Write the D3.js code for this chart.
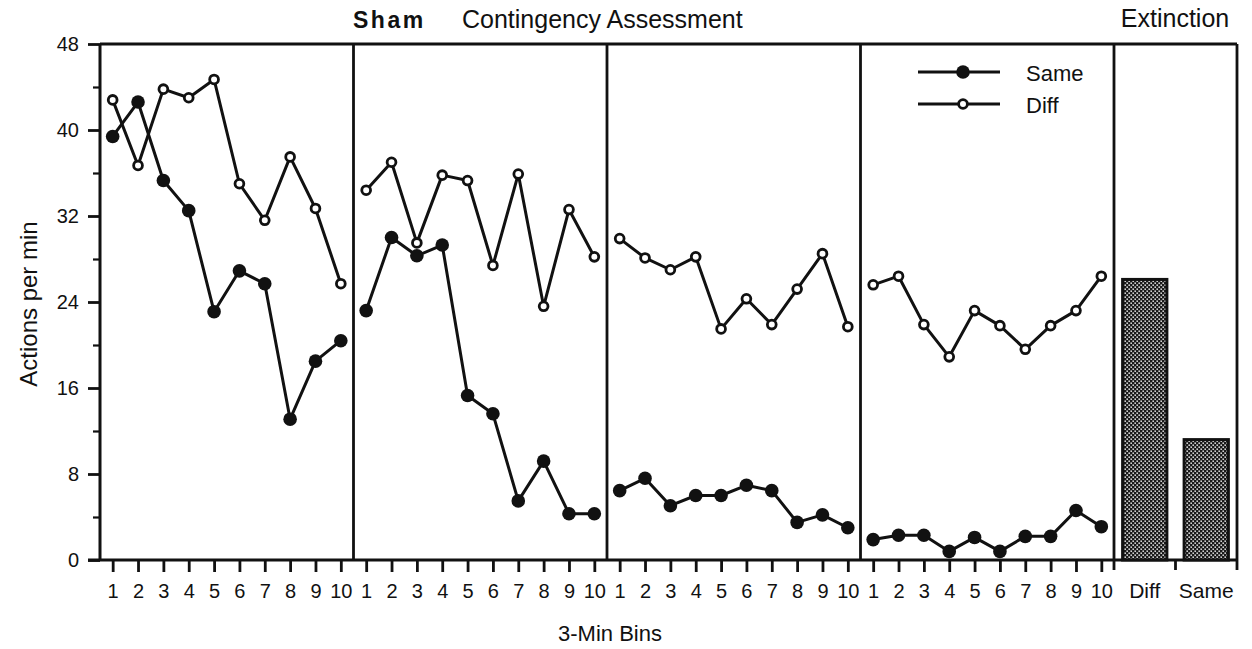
<!DOCTYPE html>
<html>
<head>
<meta charset="utf-8">
<script src="https://cdn.jsdelivr.net/npm/d3@7/dist/d3.min.js"></script>
<style>
  html, body { margin: 0; padding: 0; background: #fff; }
  svg { display: block; font-family: "Liberation Sans", Arial, Helvetica, sans-serif; }
</style>
</head>
<body>
<svg id="chart" width="1252" height="649"></svg>
<script>
// Actions per minute in 3-min bins, four contingency blocks, then extinction
const bins = [1, 2, 3, 4, 5, 6, 7, 8, 9, 10];

const sameBlock1 = [39.4, 42.6, 35.3, 32.5, 23.1, 26.9, 25.7, 13.1, 18.5, 20.4];
const diffBlock1 = [42.8, 36.7, 43.8, 43.0, 44.7, 35.0, 31.6, 37.5, 32.7, 25.7];

const sameBlock2 = [23.2, 30.0, 28.3, 29.3, 15.3, 13.6, 5.5, 9.2, 4.3, 4.3];
const diffBlock2 = [34.4, 37.0, 29.5, 35.8, 35.3, 27.4, 35.9, 23.6, 32.6, 28.2];

const sameBlock3 = [6.45, 7.6, 5.05, 6.0, 6.0, 6.95, 6.45, 3.5, 4.2, 3.0];
const diffBlock3 = [29.9, 28.1, 27.0, 28.2, 21.5, 24.3, 21.9, 25.2, 28.5, 21.7];

const sameBlock4 = [1.9, 2.3, 2.3, 0.8, 2.1, 0.8, 2.2, 2.2, 4.6, 3.1];
const diffBlock4 = [25.6, 26.4, 21.9, 18.9, 23.2, 21.8, 19.6, 21.8, 23.2, 26.4];

const extinctionGroups = ["Diff", "Same"];
const extinctionValues = [26.1, 11.2];

const yMajorTicks = [0, 8, 16, 24, 32, 40, 48];
const yMinorTicks = [4, 12, 20, 28, 36, 44];

const blocks = [
  { same: sameBlock1, diff: diffBlock1 },
  { same: sameBlock2, diff: diffBlock2 },
  { same: sameBlock3, diff: diffBlock3 },
  { same: sameBlock4, diff: diffBlock4 }
];

const svg = d3.select("#chart");

const plotLeft = 100, plotTop = 44, plotBottom = 560;
const blocksRight = 1114, plotRight = 1237;
const blockWidth = (blocksRight - plotLeft) / blocks.length;

const y = d3.scaleLinear().domain([0, 48]).range([plotBottom, plotTop]);

// stippled fill for the extinction bars
const defs = svg.append("defs");
const pat = defs.append("pattern")
  .attr("id", "stipple").attr("patternUnits", "userSpaceOnUse")
  .attr("width", 4).attr("height", 4);
pat.append("rect").attr("width", 4).attr("height", 4).attr("fill", "#1a1a1a");
pat.append("rect").attr("x", 0.4).attr("y", 0.4).attr("width", 1.6).attr("height", 1.6).attr("fill", "#d0d0d0");
pat.append("rect").attr("x", 2.4).attr("y", 2.4).attr("width", 1.6).attr("height", 1.6).attr("fill", "#d0d0d0");

const ink = "#111";

// y axis with major and minor ticks
const yAxis = svg.append("g")
  .attr("transform", `translate(${plotLeft},0)`)
  .call(d3.axisLeft(y).tickValues(yMajorTicks).tickSize(12).tickPadding(9).tickFormat(d3.format("d")));
yAxis.select(".domain").remove();
yAxis.selectAll(".tick line").attr("stroke", ink).attr("stroke-width", 2.8);
yAxis.selectAll(".tick text").attr("fill", ink).style("font-size", "20px");

const yMinor = svg.append("g")
  .attr("transform", `translate(${plotLeft},0)`)
  .call(d3.axisLeft(y).tickValues(yMinorTicks).tickSize(7).tickFormat(""));
yMinor.select(".domain").remove();
yMinor.selectAll(".tick line").attr("stroke", ink).attr("stroke-width", 2.2);

// frame: left axis, top, baseline, right edge
const frame = svg.append("g").attr("stroke", ink).attr("fill", "none");
frame.append("line").attr("x1", plotLeft).attr("x2", plotLeft).attr("y1", plotTop).attr("y2", plotBottom).attr("stroke-width", 3);
frame.append("line").attr("x1", plotLeft).attr("x2", plotRight).attr("y1", plotTop).attr("y2", plotTop).attr("stroke-width", 3);
frame.append("line").attr("x1", plotLeft - 12).attr("x2", plotRight + 1).attr("y1", plotBottom).attr("y2", plotBottom).attr("stroke-width", 3);
frame.append("line").attr("x1", plotRight).attr("x2", plotRight).attr("y1", plotTop).attr("y2", plotBottom).attr("stroke-width", 2.8);

const lineGen = (x) => d3.line().x((d, i) => x(bins[i])).y(d => y(d));

blocks.forEach((b, k) => {
  const x0 = plotLeft + k * blockWidth;
  const x = d3.scalePoint().domain(bins).range([x0, x0 + blockWidth]).padding(0.5);

  // divider on the right of each block
  svg.append("line")
    .attr("x1", x0 + blockWidth).attr("x2", x0 + blockWidth)
    .attr("y1", plotTop).attr("y2", plotBottom)
    .attr("stroke", ink).attr("stroke-width", 2.8);

  const xAxis = svg.append("g")
    .attr("transform", `translate(0,${plotBottom})`)
    .call(d3.axisBottom(x).tickSize(12).tickPadding(12));
  xAxis.select(".domain").remove();
  xAxis.selectAll(".tick line").attr("stroke", ink).attr("stroke-width", 2.8);
  xAxis.selectAll(".tick text").attr("fill", ink).style("font-size", "20px");

  const g = svg.append("g");
  [b.same, b.diff].forEach(series => {
    g.append("path").datum(series)
      .attr("d", lineGen(x))
      .attr("fill", "none").attr("stroke", ink).attr("stroke-width", 3)
      .attr("stroke-linejoin", "round");
  });
  g.selectAll("circle.same").data(b.same).join("circle")
    .attr("class", "same")
    .attr("cx", (d, i) => x(bins[i])).attr("cy", d => y(d))
    .attr("r", 6.8).attr("fill", ink);
  g.selectAll("circle.diff").data(b.diff).join("circle")
    .attr("class", "diff")
    .attr("cx", (d, i) => x(bins[i])).attr("cy", d => y(d))
    .attr("r", 4.4).attr("fill", "#fff").attr("stroke", ink).attr("stroke-width", 2.8);
});

// extinction bars
const xb = d3.scaleBand().domain(extinctionGroups).range([blocksRight, plotRight])
  .paddingInner(0.28).paddingOuter(0.14);
const gapHalf = (xb.step() - xb.bandwidth()) / 2;

svg.append("g").selectAll("rect").data(extinctionValues).join("rect")
  .attr("x", (d, i) => xb(extinctionGroups[i]))
  .attr("y", d => y(d))
  .attr("width", xb.bandwidth())
  .attr("height", d => plotBottom - y(d))
  .attr("fill", "url(#stipple)")
  .attr("stroke", ink).attr("stroke-width", 3);

const bandEdges = [blocksRight, ...extinctionGroups.map(g => xb(g) + xb.bandwidth() + gapHalf)];
svg.append("g").selectAll("line").data(bandEdges).join("line")
  .attr("x1", d => d).attr("x2", d => d)
  .attr("y1", plotBottom).attr("y2", plotBottom + 10)
  .attr("stroke", ink).attr("stroke-width", 2.8);

svg.append("g").selectAll("text").data(extinctionGroups).join("text")
  .attr("x", d => xb(d) + xb.bandwidth() / 2)
  .attr("y", 598)
  .attr("text-anchor", "middle")
  .attr("fill", ink).style("font-size", "21px")
  .text(d => d);

// legend
const legend = svg.append("g");
const legendItems = [
  { label: "Same", filled: true, yPos: 72 },
  { label: "Diff", filled: false, yPos: 104 }
];
legendItems.forEach(it => {
  legend.append("line").attr("x1", 918).attr("x2", 1000)
    .attr("y1", it.yPos).attr("y2", it.yPos)
    .attr("stroke", ink).attr("stroke-width", 3);
  if (it.filled) {
    legend.append("circle").attr("cx", 963).attr("cy", it.yPos).attr("r", 6.8).attr("fill", ink);
  } else {
    legend.append("circle").attr("cx", 963).attr("cy", it.yPos).attr("r", 4.4)
      .attr("fill", "#fff").attr("stroke", ink).attr("stroke-width", 2.8);
  }
  legend.append("text").attr("x", 1026).attr("y", it.yPos + 9)
    .attr("fill", ink).style("font-size", "22px").text(it.label);
});

// titles
svg.append("text").attr("x", 353).attr("y", 28)
  .attr("fill", ink).style("font-size", "23px").style("font-weight", "bold")
  .style("letter-spacing", "2.5px").text("Sham");
svg.append("text").attr("x", 462).attr("y", 28)
  .attr("fill", ink).style("font-size", "25px").text("Contingency Assessment");
svg.append("text").attr("x", 1175).attr("y", 27).attr("text-anchor", "middle")
  .attr("fill", ink).style("font-size", "25px").text("Extinction");

// axis titles
svg.append("text")
  .attr("transform", `translate(37,${(plotTop + plotBottom) / 2 + 2}) rotate(-90)`)
  .attr("text-anchor", "middle")
  .attr("fill", ink).style("font-size", "24px").text("Actions per min");
svg.append("text").attr("x", 610).attr("y", 641).attr("text-anchor", "middle")
  .attr("fill", ink).style("font-size", "22px").text("3-Min Bins");
</script>
</body>
</html>
